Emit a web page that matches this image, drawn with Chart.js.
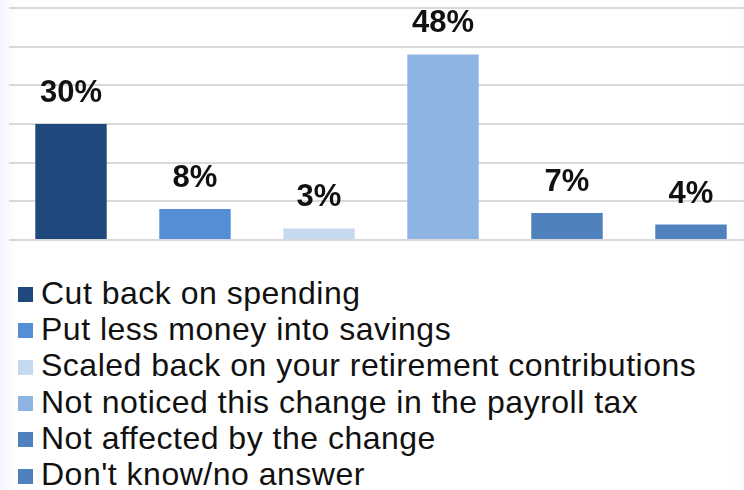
<!DOCTYPE html>
<html>
<head>
<meta charset="utf-8">
<script src="https://cdn.jsdelivr.net/npm/chart.js@4/dist/chart.umd.min.js"></script>
<style>
  html, body {
    margin: 0;
    padding: 0;
    width: 744px;
    height: 490px;
    overflow: hidden;
    background: linear-gradient(to right, #f2f5fc 0px, #ffffff 16px, #ffffff 734px, #f8faff 744px);
  }
  #chart-wrap {
    position: absolute;
    left: 0;
    top: 0;
    width: 756px;
    height: 250px;
  }
  #legend {
    position: absolute;
    left: 0;
    top: 274.7px;
    width: 744px;
    font-family: "Liberation Sans", Arial, sans-serif;
    font-size: 32px;
    color: #111;
    letter-spacing: 0.5px;
  }
  #legend .row {
    position: relative;
    height: 36.3px;
    line-height: 36.3px;
    padding-left: 41px;
    white-space: nowrap;
  }
  #legend .box {
    position: absolute;
    left: 18px;
    top: 12.5px;
    width: 15px;
    height: 15px;
  }
</style>
</head>
<body>
<div id="chart-wrap"><canvas id="payrollChart"></canvas></div>
<div id="legend"></div>
<script>
  var answers = [
    "Cut back on spending",
    "Put less money into savings",
    "Scaled back on your retirement contributions",
    "Not noticed this change in the payroll tax",
    "Not affected by the change",
    "Don't know/no answer"
  ];
  var percents = [30, 8, 3, 48, 7, 4];
  var barColors = ["#1f497d", "#558ed5", "#c6d9f1", "#8eb4e3", "#4f81bd", "#4f81bd"];
  var gridTicks = [0, 10, 20, 30, 40, 50, 60];

  // percentage labels sitting above each bar
  var valueLabels = {
    id: "valueLabels",
    afterDatasetsDraw: function(chart) {
      var ctx = chart.ctx;
      var meta = chart.getDatasetMeta(0);
      ctx.save();
      ctx.font = "bold 31px 'Liberation Sans', Arial, sans-serif";
      ctx.fillStyle = "#111";
      ctx.textAlign = "center";
      ctx.textBaseline = "alphabetic";
      meta.data.forEach(function(bar, i) {
        ctx.fillText(percents[i] + "%", bar.x, bar.y - 22);
      });
      ctx.restore();
    }
  };

  var ctx = document.getElementById("payrollChart").getContext("2d");
  new Chart(ctx, {
    type: "bar",
    data: {
      labels: answers,
      datasets: [{
        data: percents,
        backgroundColor: barColors,
        borderWidth: 0,
        barPercentage: 0.9,
        categoryPercentage: 0.64
      }]
    },
    options: {
      responsive: true,
      maintainAspectRatio: false,
      animation: false,
      layout: {
        padding: { top: 8, left: 9, right: 3, bottom: 10 }
      },
      plugins: {
        legend: { display: false },
        tooltip: { enabled: false }
      },
      scales: {
        x: { display: false },
        y: {
          min: gridTicks[0],
          max: gridTicks[gridTicks.length - 1],
          afterBuildTicks: function(scale) {
            scale.ticks = gridTicks.map(function(v) { return { value: v }; });
          },
          border: { display: false },
          grid: { color: "#d9d9d9", lineWidth: 2, drawTicks: false },
          ticks: { display: false }
        }
      }
    },
    plugins: [valueLabels]
  });

  // legend rows, one per answer
  var legendEl = document.getElementById("legend");
  answers.forEach(function(text, i) {
    var row = document.createElement("div");
    row.className = "row";
    var box = document.createElement("span");
    box.className = "box";
    box.style.background = barColors[i];
    row.appendChild(box);
    row.appendChild(document.createTextNode(text));
    legendEl.appendChild(row);
  });
</script>
</body>
</html>
